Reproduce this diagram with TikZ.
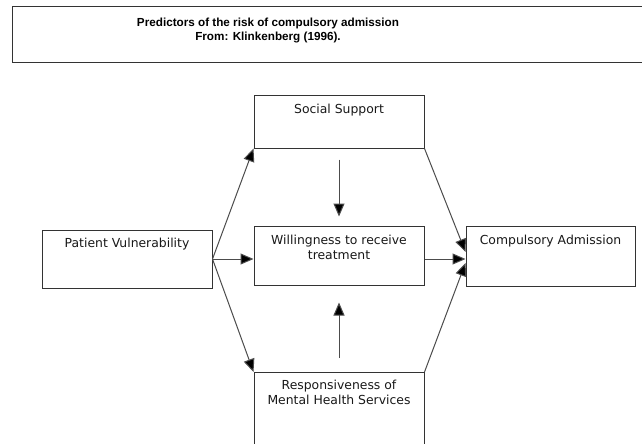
\documentclass[tikz,border=0pt]{standalone}
\usepackage{fontspec}
\setmainfont{DejaVu Sans}
\newfontfamily\titlefont{Liberation Sans}
\usetikzlibrary{arrows.meta,calc}
\begin{document}
\begin{tikzpicture}[x=1pt,y=-1pt,
  box/.style={draw=black!80, line width=1pt, rectangle, inner sep=0pt},
  lbl/.style={font=\fontsize{12.4}{15}\selectfont, text=black!90, align=center, inner sep=0pt, anchor=north},
  conn/.style={draw=black!70, line width=1pt, -{Triangle[length=13pt,width=11pt,fill=black]}}
]
\useasboundingbox (0,0) rectangle (642,444);
\fill[white] (0,0) rectangle (642,444);
% title
\node[box, minimum width=650, minimum height=56, anchor=north west] (title) at (12,6) {};
\node[font=\titlefont\bfseries\fontsize{11.7}{14}\selectfont, align=center, inner sep=0pt, text=black] (ttext) at (268,31) {Predictors of the risk of compulsory admission\\From: Klinkenberg (1996).};
% boxes
\node[box, minimum width=170, minimum height=53] (ss) at (339,121.5) {};
\node[box, minimum width=170, minimum height=59] (will) at (339,255.5) {};
\node[box, minimum width=170, minimum height=58] (pv) at (127,259) {};
\node[box, minimum width=169, minimum height=60] (ca) at (550.5,256) {};
\node[box, minimum width=170, minimum height=90, anchor=north] (resp) at (339,372) {};
% labels
\node[lbl] (ssl) at ($(ss.north)+(0,9)$) {Social Support};
\node[lbl] (willl) at ($(will.north)+(0,9)$) {Willingness to receive\\treatment};
\node[lbl] (pvl) at ($(pv.north)+(0,8)$) {Patient Vulnerability};
\node[lbl] (cal) at ($(ca.north)+(0,9)$) {Compulsory Admission};
\node[lbl] (respl) at ($(resp.north)+(0,8)$) {Responsiveness of\\Mental Health Services};
% connectors
\draw[conn] (pv.east) -- (ss.south west);
\draw[conn] (pv.east) -- (will.west |- pv.east);
\draw[conn] (pv.east) -- (resp.north west);
\draw[conn] (will.east |- pv.east) -- (ca.west |- pv.east);
\draw[conn] (ss.south east) -- ($(ca.west |- pv.east)+(0,-7)$);
\draw[conn] (resp.north east) -- ($(ca.west |- pv.east)+(0,4)$);
\draw[conn] ($(ss.south)+(0,11)$) -- ($(will.north)+(0,-9)$);
\draw[conn] ($(resp.north)+(0,-14)$) -- ($(will.south)+(0,17)$);
\end{tikzpicture}
\end{document}
